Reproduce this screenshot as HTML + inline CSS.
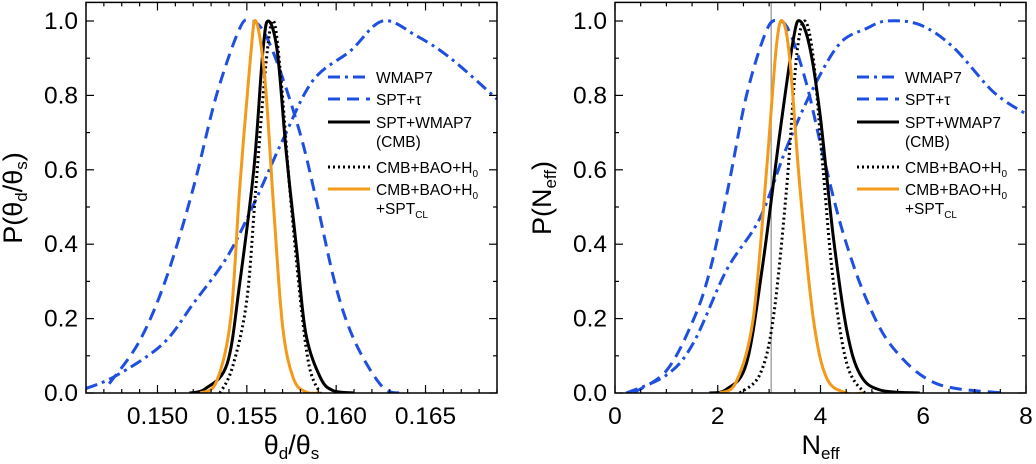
<!DOCTYPE html>
<html><head><meta charset="utf-8"><style>
html,body{margin:0;padding:0;background:#fff;}
svg{display:block;font-family:"Liberation Sans",sans-serif;}
</style></head><body>
<svg id="c" width="1036" height="464" viewBox="0 0 1036 464"></svg>
<script>
// ---- Left panel data (theta_d/theta_s) ----
const L_wmapX=[0.146,0.1477,0.1503,0.1520,0.1539,0.1554,0.1570,0.1587,0.1608,0.1626,0.1645,0.1664,0.169];
const L_wmapY=[0.012,0.047,0.132,0.240,0.366,0.509,0.679,0.84,0.92,1.0,0.96,0.9,0.79];
const L_sptX=[0.1473,0.1490,0.1505,0.1520,0.1533,0.1546,0.1552,0.1559,0.1568,0.1580,0.1589,0.1600,0.1611,0.1626,0.1637];
const L_sptY=[0.025,0.14,0.31,0.55,0.80,0.98,1.0,0.975,0.875,0.695,0.516,0.283,0.133,0.016,0.0];
const L_cmbX=[0.1518,0.1527,0.1539,0.1546,0.1554,0.1559,0.1562,0.1567,0.1572,0.1578,0.1583,0.1591,0.1598,0.1610];
const L_cmbY=[0,0.012,0.079,0.294,0.606,0.92,1.0,0.92,0.65,0.38,0.16,0.043,0.007,0];
const L_baoX=[0.1535,0.1542,0.1550,0.1555,0.1561,0.1565,0.1569,0.1574,0.1580,0.1585,0.1591];
const L_baoY=[0,0.07,0.25,0.55,0.9,1.0,0.85,0.55,0.25,0.07,0];
const L_clX=[0.1524,0.1533,0.1541,0.1546,0.1552,0.1555,0.1560,0.1565,0.1570,0.1576,0.1583,0.1591];
const L_clY=[0,0.03,0.2,0.55,0.9,1.0,0.85,0.5,0.18,0.04,0.003,0];
const L_xTicks=["0.150","0.155","0.160","0.165"];
// ---- Right panel data (N_eff) ----
const R_wmapX=[0.22,1.0,1.52,2.17,2.82,3.34,3.86,4.38,4.9,5.29,5.93,6.58,7.36,8.0];
const R_wmapY=[0,0.048,0.133,0.33,0.47,0.66,0.82,0.94,0.98,1.0,0.99,0.93,0.81,0.75];
const R_sptX=[0.35,1.0,1.52,1.85,2.2,2.56,2.95,3.18,3.4,3.73,4.05,4.44,4.9,5.42,6.26,7.56];
const R_sptY=[0,0.06,0.195,0.33,0.55,0.8,0.975,1.0,0.97,0.83,0.64,0.43,0.25,0.12,0.025,0];
const R_cmbX=[1.84,2.17,2.56,2.88,3.21,3.47,3.6,3.79,3.99,4.25,4.51,4.77,5.16,5.93];
const R_cmbY=[0,0.01,0.08,0.35,0.7,0.95,1.0,0.93,0.75,0.42,0.17,0.05,0.008,0];
const R_baoX=[2.43,2.82,3.08,3.34,3.53,3.69,3.86,4.05,4.25,4.51,4.83,5.03];
const R_baoY=[0,0.05,0.2,0.55,0.9,1.0,0.9,0.6,0.3,0.08,0.005,0];
const R_clX=[2.04,2.36,2.69,2.95,3.14,3.26,3.4,3.6,3.86,4.12,4.51,4.83];
const R_clY=[0,0.03,0.2,0.6,0.93,1.0,0.9,0.55,0.2,0.04,0,0];
const R_xTicks=["0","2","4","6","8"];
const yTicks=["0.0","0.2","0.4","0.6","0.8","1.0"];
const refNeff=3.04;

const NS="http://www.w3.org/2000/svg";
const svg=document.getElementById('c');
function mk(tag,attrs,parent){const e=document.createElementNS(NS,tag);for(const k in attrs)e.setAttribute(k,attrs[k]);(parent||svg).appendChild(e);return e;}

const styles={
 wmap:{stroke:"#1f4fe0","stroke-dasharray":"12,5,3,5"},
 spt:{stroke:"#1f4fe0","stroke-dasharray":"12,7"},
 cmb:{stroke:"#000"},
 bao:{stroke:"#000","stroke-dasharray":"2,3"},
 cl:{stroke:"#f39a1b"}
};

function smoothPath(pts){
 let d="M"+pts[0][0].toFixed(1)+","+pts[0][1].toFixed(1);
 for(let i=0;i<pts.length-1;i++){
  const p0=pts[Math.max(0,i-1)],p1=pts[i],p2=pts[i+1],p3=pts[Math.min(pts.length-1,i+2)];
  const c1=[p1[0]+(p2[0]-p0[0])/6,p1[1]+(p2[1]-p0[1])/6];
  const c2=[p2[0]-(p3[0]-p1[0])/6,p2[1]-(p3[1]-p1[1])/6];
  d+=" C"+c1[0].toFixed(1)+","+c1[1].toFixed(1)+" "+c2[0].toFixed(1)+","+c2[1].toFixed(1)+" "+p2[0].toFixed(1)+","+p2[1].toFixed(1);
 }
 return d;
}

function panel(o){
 const g=mk('g',{});
 
 
 const X0=o.x0,X1=o.x1,Y0=393,Y1=2.4;
 const sx=v=>X0+(v-o.xmin)/(o.xmax-o.xmin)*(X1-X0);
 const sy=v=>Y0-v/1.05*(Y0-Y1);
 const clipId='clip'+o.name;
 const cp=mk('clipPath',{id:clipId},g);
 mk('rect',{x:X0,y:Y1-1,width:X1-X0,height:Y0-Y1+1},cp);
 const curves=mk('g',{'clip-path':'url(#'+clipId+')'},g);
 if(o.ref!==undefined){
  const r=mk('line',{x1:sx(o.ref),x2:sx(o.ref),y1:Y1,y2:Y0,stroke:"#999","stroke-width":1.3},curves);
  
  
 }
 o.series.forEach(s=>{
  const pts=s.x.map((v,i)=>[sx(v),sy(s.y[i])]);
  const p=mk('path',Object.assign({d:smoothPath(pts),fill:"none","stroke-width":3,"stroke-linejoin":"round"},styles[s.k]),curves);
  
  
 });
 const fr=mk('rect',{x:X0,y:Y1,width:X1-X0,height:Y0-Y1,fill:"none",stroke:"#000","stroke-width":1.5},g);
 
 
 for(let k=0;k<=10;k++){
  const v=k*0.1,y=sy(v),len=(k%2==0)?8:4;
  mk('line',{x1:X0,x2:X0+len,y1:y,y2:y,stroke:"#000","stroke-width":1.2},g);
  mk('line',{x1:X1,x2:X1-len,y1:y,y2:y,stroke:"#000","stroke-width":1.2},g);
 }
 yTicks.forEach((t,i)=>{
  const tx=mk('text',{x:X0-8,y:sy(i*0.2)+8,"font-size":24.5,"text-anchor":"end"},g);
  tx.textContent=t;
  
  
 });
 for(let v=o.mstart;v<=o.xmax+1e-9;v+=o.minor){
  const isMaj=Math.abs(Math.round(v/o.major)*o.major-v)<1e-9;
  const x=sx(v),len=isMaj?8:4;
  if(x<X0-0.5||x>X1+0.5)continue;
  mk('line',{x1:x,x2:x,y1:Y0,y2:Y0-len,stroke:"#000","stroke-width":1.2},g);
  mk('line',{x1:x,x2:x,y1:Y1,y2:Y1+len,stroke:"#000","stroke-width":1.2},g);
 }
 o.xt.forEach(t=>{
  const tx=mk('text',{x:sx(parseFloat(t)),y:424,"font-size":24.5,"text-anchor":"middle"},g);
  tx.textContent=t;
  
  
 });
 const xt=mk('text',{x:(X0+X1)/2,y:454,"font-size":27,"text-anchor":"middle"},g);
 xt.innerHTML=o.xtitle;
 
 
 const yt=mk('text',{x:0,y:0,"font-size":27,"text-anchor":"middle",transform:"translate("+(o.ylx)+",198) rotate(-90)"},g);
 yt.innerHTML=o.ytitle;
 
 
 const lg=mk('g',{},g);
 
 
 const lx=o.legX;
 const rows=[
  {k:'wmap',y:77,t:'WMAP7'},
  {k:'spt',y:99,t:'SPT+&#964;'},
  {k:'cmb',y:122,t:'SPT+WMAP7',t2:'(CMB)'},
  {k:'bao',y:167,t:'CMB+BAO+H<tspan font-size="10" dy="4">0</tspan>'},
  {k:'cl',y:189,t:'CMB+BAO+H<tspan font-size="10" dy="4">0</tspan>',t2:'+SPT<tspan font-size="10" dy="4">CL</tspan>'}
 ];
 rows.forEach(r=>{
  const e=mk('g',{},lg);
  
  
  mk('line',Object.assign({x1:lx,x2:lx+42,y1:r.y,y2:r.y,"stroke-width":3},styles[r.k]),e);
  const t=mk('text',{x:lx+48,y:r.y+6,"font-size":15.5},e);
  t.innerHTML=r.t;
  if(r.t2){const t2=mk('text',{x:lx+48,y:r.y+25,"font-size":15.5},e);t2.innerHTML=r.t2;}
 });
}

panel({name:'theta-panel',x0:86,x1:497,xmin:0.146,xmax:0.169,minor:0.001,major:0.005,mstart:0.146,xt:L_xTicks,
 xtitle:'&#952;<tspan font-size="17" dy="5">d</tspan><tspan dy="-5">/&#952;</tspan><tspan font-size="17" dy="5">s</tspan>',
 ytitle:'P(&#952;<tspan font-size="17" dy="5">d</tspan><tspan dy="-5">/&#952;</tspan><tspan font-size="17" dy="5">s</tspan><tspan dy="-5">)</tspan>',
 ylx:22,legX:328,
 series:[{k:'wmap',n:'wmap7-curve',x:L_wmapX,y:L_wmapY},{k:'spt',n:'spt-tau-curve',x:L_sptX,y:L_sptY},
  {k:'cmb',n:'spt-wmap7-curve',x:L_cmbX,y:L_cmbY},{k:'bao',n:'cmb-bao-h0-curve',x:L_baoX,y:L_baoY},
  {k:'cl',n:'cmb-bao-h0-sptcl-curve',x:L_clX,y:L_clY}]});
panel({name:'neff-panel',x0:615,x1:1026,xmin:0,xmax:8,minor:0.5,major:2,mstart:0,xt:R_xTicks,ref:refNeff,
 xtitle:'N<tspan font-size="17" dy="5">eff</tspan>',
 ytitle:'P(N<tspan font-size="17" dy="5">eff</tspan><tspan dy="-5">)</tspan>',
 ylx:551,legX:857,
 series:[{k:'wmap',n:'wmap7-curve',x:R_wmapX,y:R_wmapY},{k:'spt',n:'spt-tau-curve',x:R_sptX,y:R_sptY},
  {k:'cmb',n:'spt-wmap7-curve',x:R_cmbX,y:R_cmbY},{k:'bao',n:'cmb-bao-h0-curve',x:R_baoX,y:R_baoY},
  {k:'cl',n:'cmb-bao-h0-sptcl-curve',x:R_clX,y:R_clY}]});
</script>
</body></html>
